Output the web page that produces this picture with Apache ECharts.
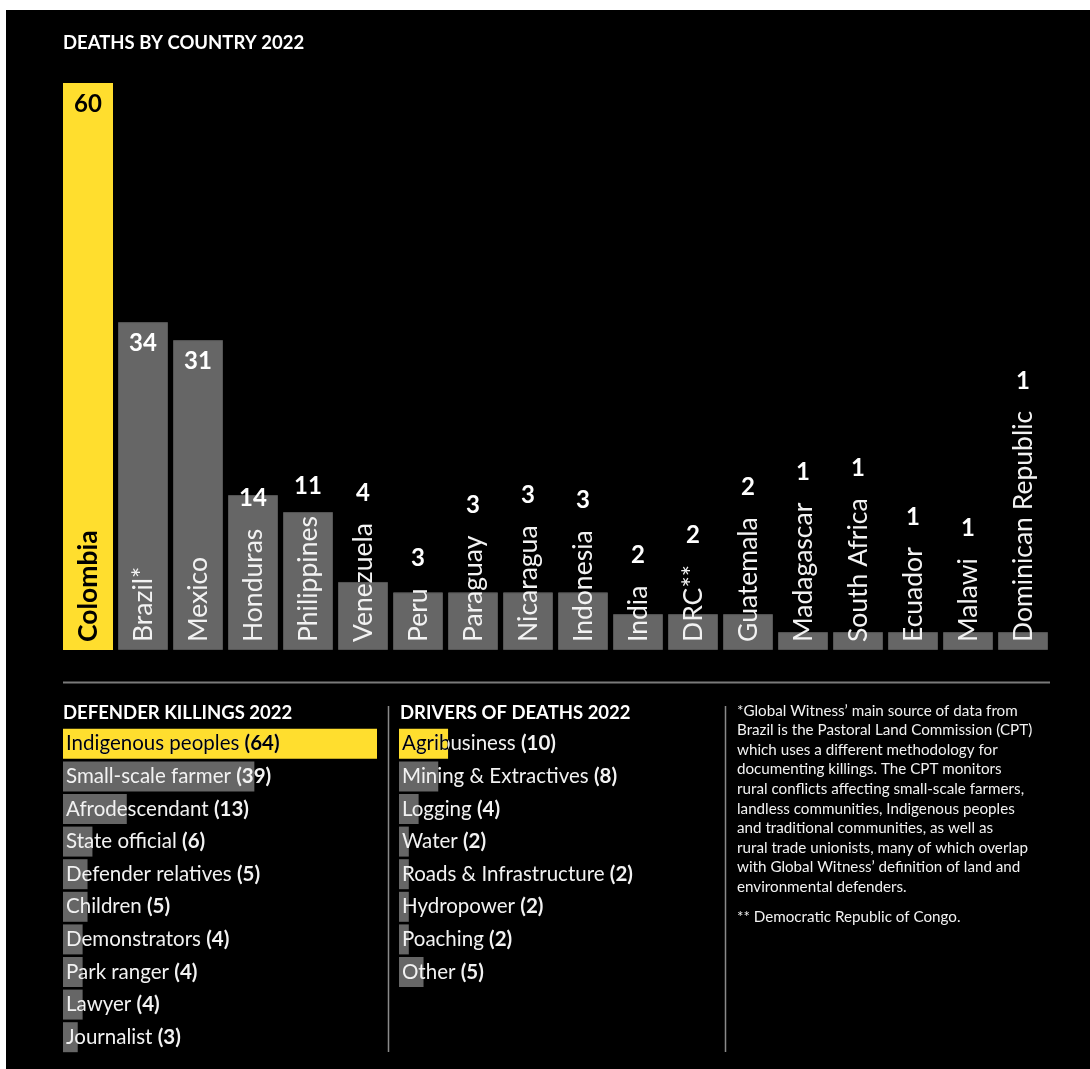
<!DOCTYPE html>
<html><head><meta charset="utf-8">
<script src="https://cdn.jsdelivr.net/npm/echarts@6/dist/echarts.min.js"></script>
<style>
html,body{margin:0;padding:0;background:#fff;}
#bg{position:absolute;left:6px;top:10px;width:1084px;height:1059px;background:#000;}
#chart{position:absolute;left:0;top:0;width:1090px;height:1069px;}
</style></head><body>
<div id="bg"></div><div id="chart"></div>
<script>
// ---------- data ----------
const countries = ['Colombia','Brazil*','Mexico','Honduras','Philippines','Venezuela','Peru','Paraguay','Nicaragua','Indonesia','India','DRC**','Guatemala','Madagascar','South Africa','Ecuador','Malawi','Dominican Republic'];
const deaths = [60,34,31,14,11,4,3,3,3,3,2,2,2,1,1,1,1,1];
// bar lengths as drawn in the original graphic (not strictly proportional), in units where Colombia = 60
const barLengths = [60,34.7,32.8,16.4,14.6,7.2,6.1,6.1,6.1,6.1,3.8,3.8,3.8,1.9,1.9,1.9,1.9,1.9];
const defenderGroups = ['Indigenous peoples','Small-scale farmer','Afrodescendant','State official','Defender relatives','Children','Demonstrators','Park ranger','Lawyer','Journalist'];
const defenderKillings = [64,39,13,6,5,5,4,4,4,3];
const drivers = ['Agribusiness','Mining & Extractives','Logging','Water','Roads & Infrastructure','Hydropower','Poaching','Other'];
const driverDeaths = [10,8,4,2,2,2,2,5];
const titles = ['DEATHS BY COUNTRY 2022','DEFENDER KILLINGS 2022','DRIVERS OF DEATHS 2022'];
const footnoteLines = [
  '*Global Witness\u2019 main source of data from',
  'Brazil is the Pastoral Land Commission (CPT)',
  'which uses a different methodology for',
  'documenting killings. The CPT monitors',
  'rural conflicts affecting small-scale farmers,',
  'landless communities, Indigenous peoples',
  'and traditional communities, as well as',
  'rural trade unionists, many of which overlap',
  'with Global Witness\u2019 definition of land and',
  'environmental defenders.'
];
const footnote2 = '** Democratic Republic of Congo.';

// ---------- style ----------
const FONT = 'Lato';
const YELLOW = '#FFDE2E';
const GREY = '#666666';
const WHITE = '#f2f2f2';
const NAME_SIZE = 26.5;
const VALUE_SIZE = 24;
const ROW_SIZE = 20.5;
const TITLE_SIZE = 18.5;

const measureCtx = document.createElement('canvas').getContext('2d');
function textWidth(t, font){ measureCtx.font = font; return measureCtx.measureText(t).width; }

const chart = echarts.init(document.getElementById('chart'), null, {renderer:'canvas'});

const rowRich = (nameColor, valColor) => ({
  n:{fontSize:ROW_SIZE, fontFamily:FONT, color:nameColor},
  b:{fontSize:ROW_SIZE, fontFamily:FONT, color:valColor, fontWeight:'bold'}
});
const rowText = (name, v) => '{n|' + name + ' }{b|(' + v + ')}';

// black text over the highlighted (yellow) bar, clipped to the bar
function highlightOverlay(names){
  return function(params, api){
    const i = api.value(1);
    if (i !== 0) return null;
    const start = api.coord([0, i]);
    const end = api.coord([api.value(0), i]);
    return {
      type:'group',
      clipPath:{type:'rect', shape:{x:start[0], y:start[1]-15, width:end[0]-start[0], height:30}},
      children:[{
        type:'text', x:start[0]+3, y:start[1],
        style:{text: rowText(names[i], api.value(0)), rich: rowRich('#000','#000'), verticalAlign:'middle', align:'left'}
      }]
    };
  };
}

const titleStyle = {color:'#fff', fontSize:TITLE_SIZE, fontWeight:'bold', fontFamily:FONT, lineHeight:20};

const option = {
  backgroundColor: 'transparent',
  animation: false,
  textStyle: {fontFamily: FONT},
  title: [
    {text: titles[0], left: 63, top: 33, padding:0, textStyle:titleStyle},
    {text: titles[1], left: 63, top: 703, padding:0, textStyle:titleStyle},
    {text: titles[2], left: 400, top: 703, padding:0, textStyle:titleStyle}
  ],
  grid: [
    {left: 60.5, top: 83, width: 990, height: 567},
    {left: 63, top: 727.5, width: 314, height: 326},
    {left: 399, top: 727.5, width: 314, height: 260.8}
  ],
  xAxis: [
    {gridIndex:0, type:'category', data: countries, show:false},
    {gridIndex:1, type:'value', min:0, max:64, show:false},
    {gridIndex:2, type:'value', min:0, max:64, show:false}
  ],
  yAxis: [
    {gridIndex:0, type:'value', min:0, max:60, show:false},
    {gridIndex:1, type:'category', data: defenderGroups, inverse:true, show:false},
    {gridIndex:2, type:'category', data: drivers, inverse:true, show:false}
  ],
  graphic: [
    {type:'line', shape:{x1:63, y1:682.5, x2:1050, y2:682.5}, style:{stroke:'#7a7a7a', lineWidth:2}},
    {type:'line', shape:{x1:388.5, y1:706, x2:388.5, y2:1052}, style:{stroke:'#8a8a8a', lineWidth:1.5}},
    {type:'line', shape:{x1:725.5, y1:706, x2:725.5, y2:1052}, style:{stroke:'#8a8a8a', lineWidth:1.5}},
    {type:'text', left:737, top:701, style:{text: footnoteLines.join('\n'), fill:WHITE, font:'15.2px ' + FONT, lineHeight:19.6}},
    {type:'text', left:737, top:907, style:{text: footnote2, fill:WHITE, font:'15.2px ' + FONT, lineHeight:19.6}}
  ],
  series: [
    {
      type:'bar', xAxisIndex:0, yAxisIndex:0, barWidth:50,
      data: barLengths.map((v,i)=>({
        value:v,
        itemStyle: i===0 ? {color:YELLOW} : {color:GREY, borderColor:'#555', borderWidth:1},
        label: i===0 ? {color:'#000', fontWeight:'bold'} : {}
      })),
      label: {
        show:true, rotate:90, position:'insideBottom', distance:8,
        align:'left', verticalAlign:'middle',
        fontSize:NAME_SIZE, fontFamily:FONT, color:WHITE,
        formatter: p => countries[p.dataIndex]
      }
    },
    {
      type:'custom', xAxisIndex:0, yAxisIndex:0, z:10,
      data: deaths.map((v,i)=>[i, barLengths[i], v]),
      renderItem: function(params, api){
        const i = api.value(0);
        const top = api.coord([i, api.value(1)]);
        const base = api.coord([i, 0]);
        const bold = i===0;
        const nw = textWidth(countries[i], (bold?'bold ':'') + NAME_SIZE + 'px ' + FONT);
        const nameTop = base[1] - 8 - nw;
        const y = Math.min(top[1] + 21, nameTop - 30);
        return {
          type:'text', x: top[0], y: y,
          style:{text: String(api.value(2)), fill: bold ? '#000' : '#fff',
                 font: 'bold ' + VALUE_SIZE + 'px ' + FONT, align:'center', verticalAlign:'middle'}
        };
      }
    },
    {
      type:'bar', xAxisIndex:1, yAxisIndex:1, barWidth:30,
      data: defenderKillings.map((v,i)=>({value:v, itemStyle:{color: i===0?YELLOW:GREY}})),
      label: {
        show:true, position:'insideLeft', distance:3,
        formatter: p => rowText(defenderGroups[p.dataIndex], p.value),
        rich: rowRich(WHITE, WHITE)
      }
    },
    {
      type:'custom', xAxisIndex:1, yAxisIndex:1, z:10,
      data: defenderKillings.map((v,i)=>[v,i]),
      renderItem: highlightOverlay(defenderGroups)
    },
    {
      type:'bar', xAxisIndex:2, yAxisIndex:2, barWidth:30,
      data: driverDeaths.map((v,i)=>({value:v, itemStyle:{color: i===0?YELLOW:GREY}})),
      label: {
        show:true, position:'insideLeft', distance:3,
        formatter: p => rowText(drivers[p.dataIndex], p.value),
        rich: rowRich(WHITE, WHITE)
      }
    },
    {
      type:'custom', xAxisIndex:2, yAxisIndex:2, z:10,
      data: driverDeaths.map((v,i)=>[v,i]),
      renderItem: highlightOverlay(drivers)
    }
  ]
};
chart.setOption(option);
</script>
</body></html>
